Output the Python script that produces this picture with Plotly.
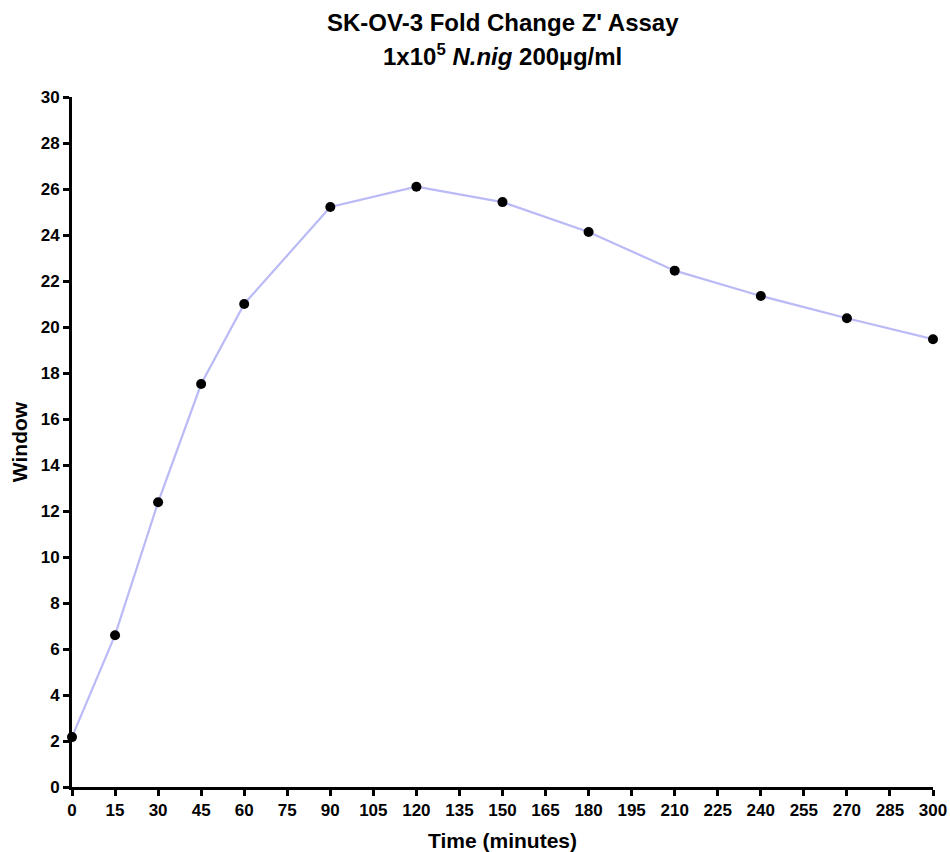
import plotly.graph_objects as go

time_min = [0, 15, 30, 45, 60, 90, 120, 150, 180, 210, 240, 270, 300]
window = [2.17, 6.6, 12.38, 17.52, 21.0, 25.22, 26.1, 25.43, 24.13, 22.45, 21.35, 20.38, 19.47]
x_ticks = list(range(0, 301, 15))
y_ticks = list(range(0, 31, 2))

font_family = "Liberation Sans, Arial, sans-serif"

fig = go.Figure()
fig.add_trace(go.Scatter(
    x=time_min, y=window, mode="lines+markers",
    line=dict(color="#BABAF7", width=2.2),
    marker=dict(color="black", size=10),
    cliponaxis=False, showlegend=False,
))

fig.update_layout(
    width=950, height=852,
    paper_bgcolor="white", plot_bgcolor="white",
    margin=dict(l=72, r=17, t=97, b=65, autoexpand=False),
    font=dict(family=font_family, color="black"),
    xaxis=dict(
        range=[0, 300], tickvals=x_ticks, ticktext=[f"<b>{v}</b>" for v in x_ticks],
        showgrid=False, zeroline=False, showline=True, linecolor="black", linewidth=3,
        ticks="outside", ticklen=6, tickwidth=2.5, tickcolor="black",
        tickfont=dict(size=17, family=font_family, color="black"),
        automargin=False, ticklabeloverflow="allow",
        title=dict(text="<b>Time (minutes)</b>", font=dict(size=21, family=font_family, color="black"), standoff=18),
    ),
    yaxis=dict(
        range=[0, 30], tickvals=y_ticks, ticktext=[f"<b>{v}</b>" for v in y_ticks],
        showgrid=False, zeroline=False, showline=True, linecolor="black", linewidth=3,
        ticks="outside", ticklen=6, tickwidth=2.5, tickcolor="black",
        tickfont=dict(size=17, family=font_family, color="black"),
        automargin=False,
        title=dict(text="<b>Window</b>", font=dict(size=21, family=font_family, color="black"), standoff=8),
    ),
    annotations=[
        dict(text="<b>SK-OV-3 Fold Change Z' Assay</b>", xref="paper", yref="paper",
             x=0.5, y=1.0, xanchor="center", yanchor="middle", yshift=(97 - 22),
             showarrow=False, font=dict(size=24, family=font_family, color="black")),
        dict(text="<b>1x10<sup>5</sup> <i>N.nig</i> 200µg/ml</b>", xref="paper", yref="paper",
             x=0.5, y=1.0, xanchor="center", yanchor="middle", yshift=(97 - 55),
             showarrow=False, font=dict(size=24, family=font_family, color="black")),
    ],
)

fig.write_html("out.html", config={"displayModeBar": False},
               post_script="document.body.style.margin='0';")
